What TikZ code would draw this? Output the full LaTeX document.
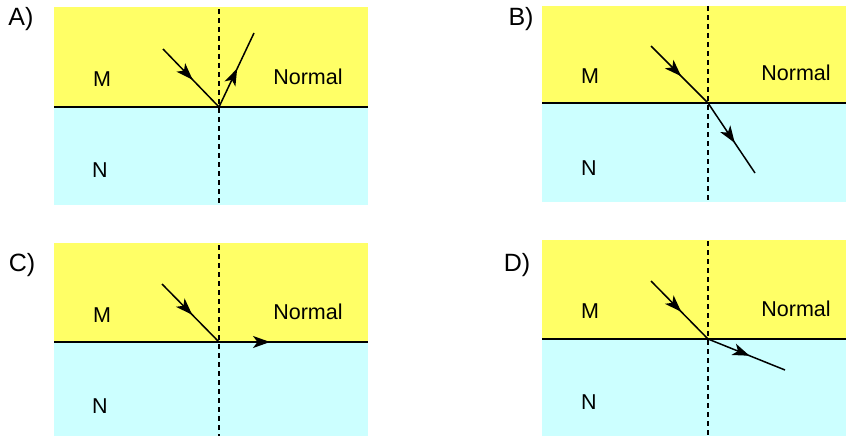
\documentclass[tikz,border=0pt]{standalone}
\usepackage{fontspec}
\setmainfont{Liberation Sans}
\usetikzlibrary{arrows.meta,decorations.markings}
\definecolor{myyellow}{HTML}{FFFF66}
\definecolor{mycyan}{HTML}{CCFFFF}
\tikzset{
  upper/.style={fill=myyellow,draw=none},
  lower/.style={fill=mycyan,draw=none},
  surface/.style={line width=1.5pt,black},
  normalline/.style={line width=1.4pt,dash pattern=on 5pt off 4pt},
  ray/.style={line width=1.5pt},
  midarrow/.style={postaction={decorate},decoration={markings,mark=at position #1 with {\arrow{Stealth[length=17pt,width=12pt,inset=4.5pt]}}}},
  lbl/.style={font=\fontsize{21.5}{25}\selectfont,inner sep=0pt},
  panel/.style={font=\fontsize{25}{30}\selectfont,inner sep=0pt},
}
\begin{document}
\begin{tikzpicture}[x=1pt,y=-1pt]
\useasboundingbox (0,0) rectangle (846,436);
% ---------- Panel A
\fill[upper] (54,7) rectangle (368,107);
\fill[lower] (54,107) rectangle (368,205);
\coordinate (AL) at (54,107); \coordinate (AR) at (368,107);
\coordinate (AT) at (219,9); \coordinate (AB) at (219,205);
\coordinate (AO) at (219,107);
\coordinate (Ain) at (163,49); \coordinate (Aout) at (254,33);
\draw[surface] (AL) -- (AR);
\draw[normalline] (AT) -- (AB);
\draw[ray,midarrow=0.53] (Ain) -- (AO);
\draw[ray,midarrow=0.52] (AO) -- (Aout);
\node[panel] (Alab) at (21,19) {A)};
\node[lbl] (AM) at (102,79) {M};
\node[lbl] (AN) at (100,170) {N};
\node[lbl] (Anorm) at (308,77) {Normal};
% ---------- Panel B
\fill[upper] (542,6) rectangle (846,103);
\fill[lower] (542,103) rectangle (846,202);
\coordinate (BL) at (542,103); \coordinate (BR) at (846,103);
\coordinate (BT) at (708,6); \coordinate (BB) at (708,201);
\coordinate (BO) at (708,103);
\coordinate (Bin) at (651,46); \coordinate (Bout) at (755,173);
\draw[surface] (BL) -- (BR);
\draw[normalline] (BT) -- (BB);
\draw[ray,midarrow=0.53] (Bin) -- (BO);
\draw[ray,midarrow=0.57] (BO) -- (Bout);
\node[panel] (Blab) at (521,19) {B)};
\node[lbl] (BM) at (590,76) {M};
\node[lbl] (BN) at (589,168) {N};
\node[lbl] (Bnorm) at (796,73) {Normal};
% ---------- Panel C
\fill[upper] (54,243) rectangle (368,342);
\fill[lower] (54,342) rectangle (368,436);
\coordinate (CL) at (54,342); \coordinate (CR) at (368,342);
\coordinate (CT) at (219,245); \coordinate (CB) at (219,436);
\coordinate (CO) at (219,342);
\coordinate (Cin) at (162,284); \coordinate (Cout) at (270,342);
\draw[surface] (CL) -- (CR);
\draw[normalline] (CT) -- (CB);
\draw[ray,midarrow=0.53] (Cin) -- (CO);
\draw[ray,-{Stealth[length=17pt,width=12pt,inset=4.5pt]}] (CO) -- (Cout);
\node[panel] (Clab) at (22,265) {C)};
\node[lbl] (CM) at (102,315) {M};
\node[lbl] (CN) at (100,406) {N};
\node[lbl] (Cnorm) at (308,312) {Normal};
% ---------- Panel D
\fill[upper] (542,240) rectangle (846,339);
\fill[lower] (542,339) rectangle (846,436);
\coordinate (DL) at (542,339); \coordinate (DR) at (846,339);
\coordinate (DT) at (708,241); \coordinate (DB) at (708,436);
\coordinate (DO) at (708,339);
\coordinate (Din) at (651,281); \coordinate (Dout) at (785,370);
\draw[surface] (DL) -- (DR);
\draw[normalline] (DT) -- (DB);
\draw[ray,midarrow=0.53] (Din) -- (DO);
\draw[ray,midarrow=0.54] (DO) -- (Dout);
\node[panel] (Dlab) at (517,265) {D)};
\node[lbl] (DM) at (590,311) {M};
\node[lbl] (DN) at (589,402) {N};
\node[lbl] (Dnorm) at (796,309) {Normal};
\end{tikzpicture}
\end{document}
